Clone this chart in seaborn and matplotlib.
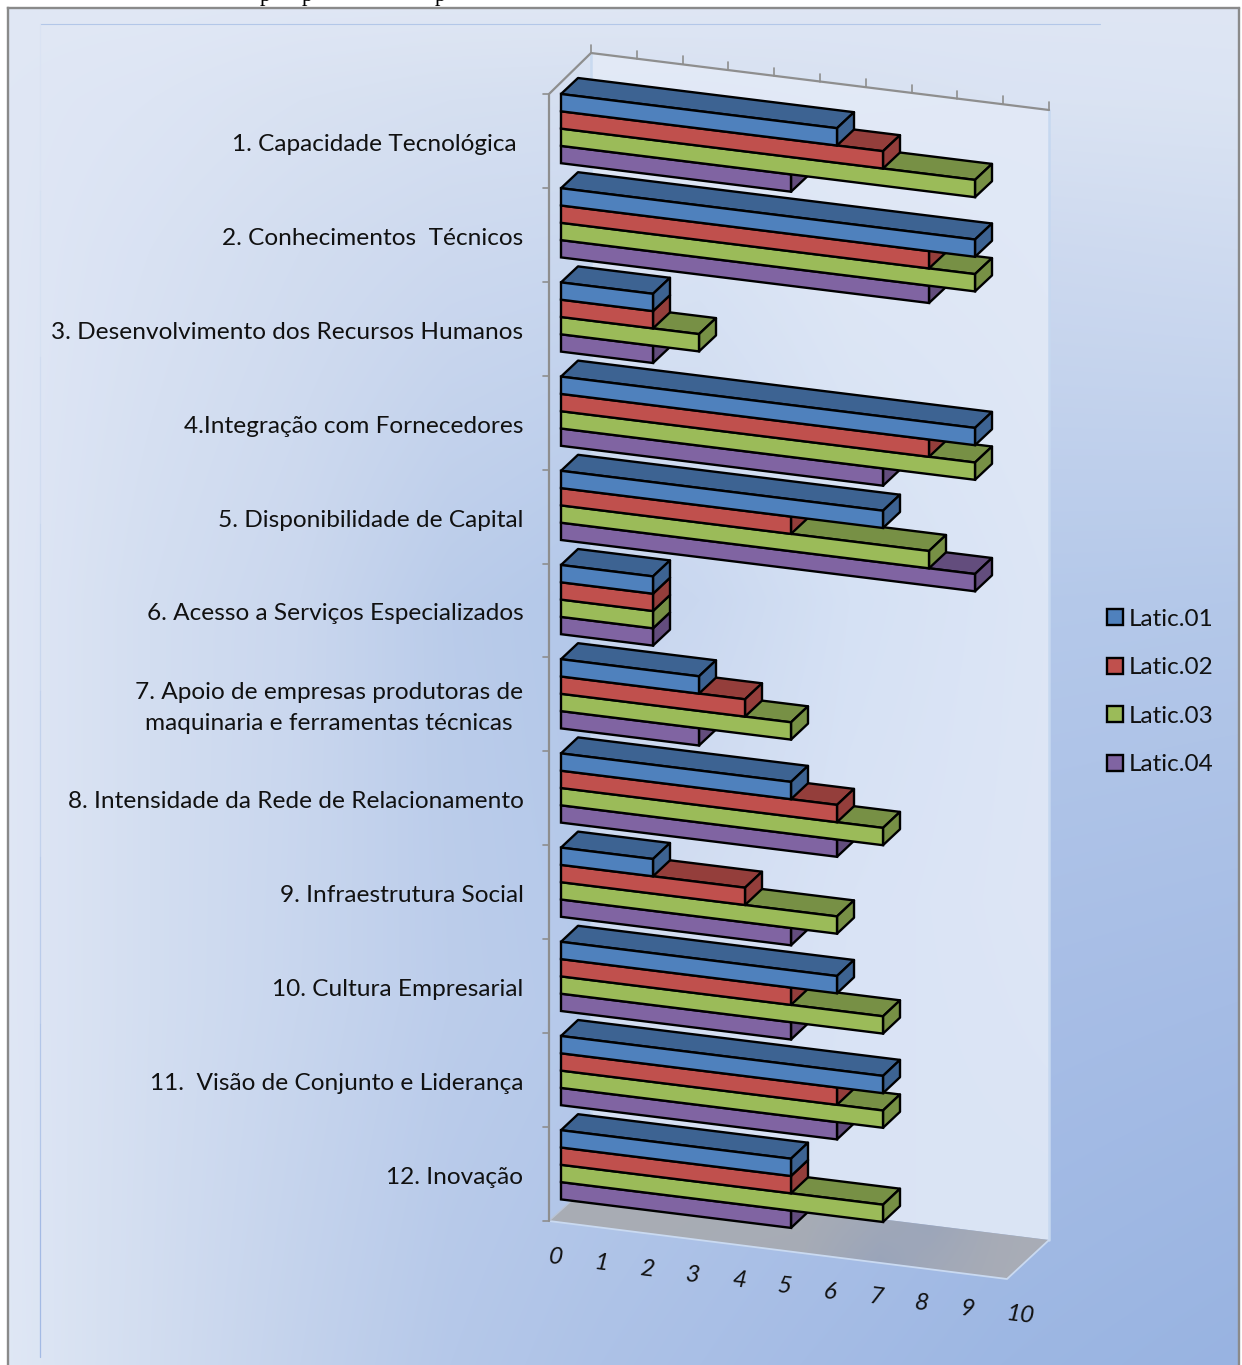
import numpy as np
import pandas as pd
import matplotlib
matplotlib.use("Agg")
import matplotlib.pyplot as plt
from matplotlib.colors import to_rgb
from matplotlib.patches import Polygon
from matplotlib.transforms import Affine2D
import seaborn as sns

categories = [
    "1. Capacidade Tecnológica",
    "2. Conhecimentos  Técnicos",
    "3. Desenvolvimento dos Recursos Humanos",
    "4.Integração com Fornecedores",
    "5. Disponibilidade de Capital",
    "6. Acesso a Serviços Especializados",
    "7. Apoio de empresas produtoras de\nmaquinaria e ferramentas técnicas",
    "8. Intensidade da Rede de Relacionamento",
    "9. Infraestrutura Social",
    "10. Cultura Empresarial",
    "11.  Visão de Conjunto e Liderança",
    "12. Inovação",
]
series_names = ["Latic.01", "Latic.02", "Latic.03", "Latic.04"]
latic_01 = [6, 9, 2, 9, 7, 2, 3, 5, 2, 6, 7, 5]
latic_02 = [7, 8, 2, 8, 5, 2, 4, 6, 4, 5, 6, 5]
latic_03 = [9, 9, 3, 9, 8, 2, 5, 7, 6, 7, 7, 7]
latic_04 = [5, 8, 2, 7, 9, 2, 3, 6, 5, 5, 6, 5]
series_colors = ["#4F81BD", "#C0504D", "#9BBB59", "#8064A2"]
value_ticks = list(range(11))

W, H = 1242, 1365
UNIT_X = 46.0          # pixels per value unit along a bar
PITCH = 94.2           # pixels per category
BAR_X0, ROW0_Y = 561.0, 128.6
SLOPE = 5.7            # vertical drop in pixels per value unit
DEPTH_X, DEPTH_Y = 17.0, -16.0
EDGE_W = 1.7

sns.set_theme(style="white")
plt.rcParams["font.family"] = ["Lato", "DejaVu Sans"]


def colour_field(xs, ys, rows, x_to, y_to):
    """Bilinear colour field from a coarse table of hex colours."""
    table = np.array([[to_rgb("#" + c) for c in row] for row in rows])
    out = np.zeros((len(y_to), len(x_to), 3))
    for ch in range(3):
        across = np.array([np.interp(x_to, xs, table[r, :, ch]) for r in range(len(ys))])
        for j in range(len(x_to)):
            out[:, j, ch] = np.interp(y_to, ys, across[:, j])
    return out


fig = plt.figure(figsize=(W / 100, H / 100), dpi=100)
bg = fig.add_axes([0, 0, 1, 1])
bg.set_xlim(0, W)
bg.set_ylim(H, 0)
bg.axis("off")

# Chart-area gradient
page = colour_field(
    [0, 150, 300, 450, 600, 800, 1000, 1242],
    [0, 100, 250, 600, 1000, 1365],
    [
        "E1E8F5 E1E8F5 E0E7F5 E0E7F4 E0E7F4 DFE6F4 DFE6F4 DFE6F4".split(),
        "E0E7F5 DDE5F4 D9E2F2 D6E0F1 D5DFF1 D7E1F2 DAE3F3 DBE4F3".split(),
        "E0E7F5 D9E2F3 D2DDF0 CDD9EF CAD8EF CCDAF0 CDD9EF CFDBF0".split(),
        "E0E7F5 D3DEF1 CAD7EE BACCEA B2C7E9 B4C8EA B5C9EA B4C8E9".split(),
        "E0E7F5 D3DEF1 C8D6EE BCCDEB B5C9EA AFC4E8 A8BEE6 A5BCE5".split(),
        "E0E8F5 D2DDF0 C3D2EC B5C8E9 ADC2E7 A5BCE5 9DB7E3 98B3E1".split(),
    ],
    np.arange(W) + 0.5,
    np.arange(H) + 0.5,
)
page[:8, :] = 1
page[:, :8] = 1
page[:, 1239:] = 1
bg.imshow(page, extent=(0, W, H, 0), aspect="auto", zorder=0)
bg.plot([8, 8], [H, 8], color="#8A8A8A", lw=1.7, zorder=1, solid_capstyle="projecting")
bg.plot([8, 1238.5], [8, 8], color="#8A8A8A", lw=1.7, zorder=1, solid_capstyle="projecting")
bg.plot([1238.5, 1238.5], [8, H], color="#8A8A8A", lw=1.7, zorder=1)

# Thin plot-area outline, fading in towards the bottom on its left side
bg.plot([40, 1100], [24, 24], color="#B3C7E8", lw=0.8, zorder=1)
outline_stops = np.linspace(24, 1357, 9)
outline_cols = ["#DAE3F3", "#D6E1F2", "#D0DCF0", "#C9D7EE", "#C2D2EC", "#BACCEA", "#B2C6E8", "#A3BAE4"]
for y0, y1, c in zip(outline_stops[:-1], outline_stops[1:], outline_cols):
    bg.plot([40, 40], [y0, y1], color=c, lw=0.9, zorder=1)

# Back wall
wall_pts = [(591, 53), (1049, 110), (1049, 1240), (591, 1183)]
wall_clip = Polygon(wall_pts, closed=True, transform=bg.transData, fc="none", ec="none")
bg.add_patch(wall_clip)
wall = colour_field(
    [591, 700, 850, 1049],
    [53, 300, 600, 900, 1240],
    [
        "E3EAF7 E3EAF7 E3EAF7 E2E9F7".split(),
        "D8E2F3 D6E1F3 DDE6F5 E0E8F6".split(),
        "C6D5EE CAD8F0 D5E1F4 DDE6F6".split(),
        "CFDBF1 D3DEF2 D9E3F5 DEE6F6".split(),
        "DAE4F4 D8E2F4 DAE4F5 DAE4F4".split(),
    ],
    np.arange(591, 1050) + 0.5,
    np.arange(53, 1241) + 0.5,
)
wall_im = bg.imshow(wall, extent=(591, 1050, 1241, 53), aspect="auto", zorder=2)
wall_im.set_clip_path(wall_clip)
bg.plot([591, 591], [53, 1183], color="#C9DAF0", lw=1.8, zorder=3)
bg.plot([1049, 1049], [110, 1240], color="#C6D8F0", lw=1.8, zorder=3)

# Floor
floor_pts = [(549, 1221), (591, 1183), (1049, 1240), (1007, 1279)]
floor_clip = Polygon(floor_pts, closed=True, transform=bg.transData, fc="none", ec="none")
bg.add_patch(floor_clip)
floor = colour_field(
    [549, 800, 880, 930, 1000, 1049],
    [1183, 1279],
    [
        "A9ADB4 A8ADB5 A6ABB6 97A3BB A6ABB6 A9ADB6".split(),
        "A9ADB4 A6ABB6 97A3BB A2A9B8 A8ACB6 A9ADB6".split(),
    ],
    np.arange(549, 1050) + 0.5,
    np.arange(1183, 1280) + 0.5,
)
floor_im = bg.imshow(floor, extent=(549, 1050, 1280, 1183), aspect="auto", zorder=2)
floor_im.set_clip_path(floor_clip)
bg.plot([549, 1007, 1049], [1221, 1279, 1240], color="#CADAF1", lw=1.3, zorder=3)
bg.set_xlim(0, W)
bg.set_ylim(H, 0)

# Axis frame: depth line, back value axis, category axis and their ticks
AXIS = "#8E8E8E"
tick_step = 458 / 10
bg.plot([549, 549, 591, 1049], [1221, 94, 53, 110], color=AXIS, lw=1.6, zorder=4)
bg.plot([549, 591], [1221, 1183], color="#B9C4D6", lw=1.0, zorder=3)
for v in value_ticks:
    tx = 591 + v * tick_step
    ty = 53 + v * tick_step * 57 / 458
    bg.plot([tx, tx], [ty, ty - 8], color=AXIS, lw=1.2, zorder=4)
    bg.text(548.5 + v * tick_step, 1257 + v * tick_step * 57 / 458, str(v), ha="left", va="center",
            fontsize=17.5, style="italic", rotation=-7, rotation_mode="anchor", color="#111111", zorder=5)
for i in range(len(categories) + 1):
    ty = 94 + i * 93.9
    bg.plot([543, 549], [ty, ty], color=AXIS, lw=1.2, zorder=4)

# Descenders of the caption line cut off by the page edge
for px in (265, 307, 440):
    bg.text(px, 1, "p", family="Liberation Serif", fontsize=16, ha="center", va="baseline", color="black")

# Bars, in tidy form for seaborn
df = pd.DataFrame({
    "categoria": categories * 4,
    "serie": np.repeat(series_names, len(categories)),
    "valor": latic_01 + latic_02 + latic_03 + latic_04,
})

ax = fig.add_axes([0, 0, 1, 1])
ax.patch.set_alpha(0)
sns.barplot(
    data=df, y="categoria", x="valor", hue="serie", order=categories, hue_order=series_names,
    palette=series_colors, saturation=1, width=69.2 / PITCH, gap=0, dodge=True,
    edgecolor="black", linewidth=EDGE_W, ax=ax,
)
ax.set_xlim(-BAR_X0 / UNIT_X, (W - BAR_X0) / UNIT_X)
ax.set_ylim((H - ROW0_Y) / PITCH, -ROW0_Y / PITCH)
ax.axis("off")

# Oblique projection: every value unit also drops the bar slightly
k = SLOPE / PITCH
sheared = Affine2D(np.array([[1, 0, 0], [k, 1, 0], [0, 0, 1]], float)) + ax.transData
ddx = DEPTH_X / UNIT_X
ddy = DEPTH_Y / PITCH - k * ddx

for bar in list(ax.patches):
    length = bar.get_width()
    y_a, y_b = sorted((bar.get_y(), bar.get_y() + bar.get_height()))
    base = np.array(bar.get_facecolor()[:3])
    dark = tuple(base * 0.77)
    z = 100 - y_a * 5              # lower bars first, so upper ones overlap them
    face = dict(ec="black", lw=EDGE_W, joinstyle="round", clip_on=False, transform=sheared)
    top = Polygon([(0, y_a), (length, y_a), (length + ddx, y_a + ddy), (ddx, y_a + ddy)],
                  fc=dark, zorder=z, **face)
    side = Polygon([(length, y_a), (length, y_b), (length + ddx, y_b + ddy), (length + ddx, y_a + ddy)],
                   fc=dark, zorder=z, **face)
    ax.add_patch(top)
    ax.add_patch(side)
    bar.set_transform(sheared)
    bar.set_clip_on(False)
    bar.set_zorder(z + 0.1)

# Category labels, right aligned beside the category axis
right_edge = {0: 517, 6: 523}
for i, name in enumerate(categories):
    xpx = right_edge.get(i, 523.5)
    ax.text((xpx - BAR_X0) / UNIT_X, (144.5 + 93.9 * i - ROW0_Y) / PITCH, name, ha="right", va="center",
            ma="center", fontsize=17.6, linespacing=1.62, color="#111111", zorder=200)

sns.move_legend(
    ax, "center left", bbox_to_anchor=(1085.5 / W, 1 - 692 / H), frameon=False, title=None,
    fontsize=17.5, handlelength=0.64, handleheight=0.64, handletextpad=0.22, labelspacing=1.13,
)
for text in ax.get_legend().get_texts():
    text.set_color("#111111")

fig.savefig("out.png", dpi=100)
